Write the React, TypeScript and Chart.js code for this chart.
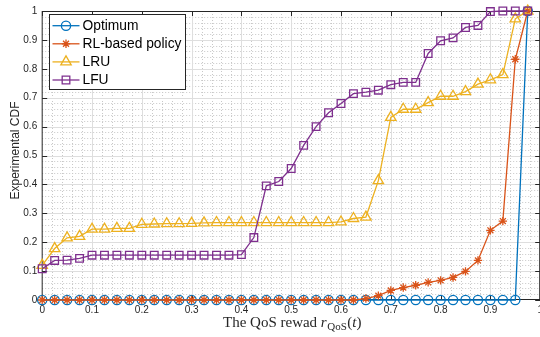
import React, { useEffect, useRef } from 'react';
import { Chart, registerables } from 'chart.js';
import { drawPoint } from 'chart.js/helpers';

Chart.register(...registerables);

// Reward thresholds (x) at which each empirical CDF is sampled
const xValues = [
  0, 0.025, 0.05, 0.075, 0.1, 0.125, 0.15, 0.175, 0.2, 0.225,
  0.25, 0.275, 0.3, 0.325, 0.35, 0.375, 0.4, 0.425, 0.45, 0.475,
  0.5, 0.525, 0.55, 0.575, 0.6, 0.625, 0.65, 0.675, 0.7, 0.725,
  0.75, 0.775, 0.8, 0.825, 0.85, 0.875, 0.9, 0.925, 0.95, 0.975,
];

const optimum = [
  0, 0, 0, 0, 0, 0, 0, 0, 0, 0,
  0, 0, 0, 0, 0, 0, 0, 0, 0, 0,
  0, 0, 0, 0, 0, 0, 0, 0, 0, 0,
  0, 0, 0, 0, 0, 0, 0, 0, 0, 1,
];

const rlPolicy = [
  0, 0, 0, 0, 0, 0, 0, 0, 0, 0,
  0, 0, 0, 0, 0, 0, 0, 0, 0, 0,
  0, 0, 0, 0, 0, 0, 0.005, 0.015, 0.033, 0.043,
  0.051, 0.061, 0.068, 0.078, 0.099, 0.137, 0.241, 0.273, 0.833, 1,
];

const lru = [
  0.12, 0.178, 0.215, 0.22, 0.245, 0.245, 0.248, 0.248, 0.262, 0.263,
  0.264, 0.264, 0.265, 0.267, 0.268, 0.268, 0.268, 0.268, 0.268, 0.268,
  0.268, 0.268, 0.268, 0.268, 0.27, 0.282, 0.287, 0.413, 0.632, 0.66,
  0.66, 0.683, 0.705, 0.705, 0.721, 0.747, 0.762, 0.78, 0.973, 1,
];

const lfu = [
  0.108, 0.137, 0.138, 0.144, 0.155, 0.155, 0.155, 0.155, 0.155, 0.155,
  0.155, 0.155, 0.155, 0.155, 0.155, 0.155, 0.157, 0.216, 0.395, 0.41,
  0.455, 0.535, 0.6, 0.648, 0.68, 0.714, 0.719, 0.726, 0.745, 0.753,
  0.753, 0.853, 0.897, 0.907, 0.943, 0.95, 0.998, 1, 1, 1,
];

const xTickValues = [0, 0.1, 0.2, 0.3, 0.4, 0.5, 0.6, 0.7, 0.8, 0.9, 1];
const yTickValues = [0, 0.1, 0.2, 0.3, 0.4, 0.5, 0.6, 0.7, 0.8, 0.9, 1];

const seriesNames = ['Optimum', 'RL-based policy', 'LRU', 'LFU'];
const seriesValues = [optimum, rlPolicy, lru, lfu];
const seriesColors = ['#0072BD', '#D95319', '#EDB120', '#7E2F8E'];
const seriesMarkers = ['circle', 'star', 'triangle', 'rect'];
const markerRadius = [4.6, 4.2, 6, 5.4];

const AXIS_COLOR = '#262626';
const SANS = '"Liberation Sans", Arial, Helvetica, sans-serif';
const SERIF = '"Liberation Serif", "Times New Roman", serif';

const CANVAS_W = 560;
const CANVAS_H = 337;

// Grid, box and inward tick marks in the MATLAB style
const axesBoxPlugin = {
  id: 'axesBox',
  beforeDatasetsDraw(chart: any) {
    const { ctx, chartArea, scales } = chart;
    const { left, right, top, bottom } = chartArea;
    const xs = scales.x;
    const ys = scales.y;
    const line = (x1: number, y1: number, x2: number, y2: number) => {
      ctx.beginPath();
      ctx.moveTo(x1, y1);
      ctx.lineTo(x2, y2);
      ctx.stroke();
    };
    ctx.save();
    ctx.lineWidth = 1;

    // minor grid (0.02 spacing), dotted
    ctx.strokeStyle = '#c8c8c8';
    ctx.setLineDash([1, 2]);
    for (let i = 1; i < 50; i++) {
      if (i % 5 === 0) continue;
      const v = i / 50;
      const px = Math.round(xs.getPixelForValue(v)) + 0.5;
      line(px, top, px, bottom);
      const py = Math.round(ys.getPixelForValue(v)) + 0.5;
      line(left, py, right, py);
    }

    // major grid
    ctx.setLineDash([]);
    ctx.strokeStyle = '#dedede';
    xTickValues.forEach((v) => {
      if (v <= 0 || v >= 1) return;
      const px = Math.round(xs.getPixelForValue(v)) + 0.5;
      line(px, top, px, bottom);
    });
    yTickValues.forEach((v) => {
      if (v <= 0 || v >= 1) return;
      const py = Math.round(ys.getPixelForValue(v)) + 0.5;
      line(left, py, right, py);
    });

    // axes box
    ctx.strokeStyle = AXIS_COLOR;
    line(left, top + 0.5, right, top + 0.5);
    line(left, bottom - 0.5, right, bottom - 0.5);
    line(left, top, left, bottom);
    line(right - 0.5, top, right - 0.5, bottom);

    // inward ticks
    const tl = 5;
    xTickValues.forEach((v) => {
      const px = Math.round(xs.getPixelForValue(v)) + 0.5;
      line(px, bottom, px, bottom - tl);
      line(px, top, px, top + tl);
    });
    yTickValues.forEach((v) => {
      const py = Math.round(ys.getPixelForValue(v)) + 0.5;
      line(left, py, left + tl, py);
      line(right, py, right - tl, py);
    });
    ctx.restore();
  },
  afterDatasetsDraw(chart: any) {
    const { ctx } = chart;
    ctx.save();
    // legend box
    const bx = 49.5;
    const by = 14.5;
    const bw = 136;
    const bh = 75;
    ctx.fillStyle = '#ffffff';
    ctx.fillRect(bx, by, bw, bh);
    ctx.strokeStyle = AXIS_COLOR;
    ctx.lineWidth = 1;
    ctx.strokeRect(bx, by, bw, bh);

    ctx.font = `13.8px ${SANS}`;
    ctx.textBaseline = 'middle';
    ctx.textAlign = 'left';
    seriesNames.forEach((name, i) => {
      const cy = by + 11.2 + i * 18.1;
      ctx.strokeStyle = seriesColors[i];
      ctx.lineWidth = 1.3;
      ctx.beginPath();
      ctx.moveTo(52.5, cy);
      ctx.lineTo(79.5, cy);
      ctx.stroke();
      ctx.fillStyle = 'rgba(0,0,0,0)';
      drawPoint(ctx, {
        pointStyle: seriesMarkers[i],
        rotation: 0,
        radius: markerRadius[i],
        borderWidth: 1.3,
      } as any, 66, cy);
      ctx.fillStyle = '#000000';
      ctx.fillText(name, 82.5, cy + 0.5);
    });
    ctx.restore();
  },
  afterDraw(chart: any) {
    const { ctx, chartArea } = chart;
    const { left, right, top, bottom } = chartArea;
    ctx.save();
    ctx.fillStyle = AXIS_COLOR;

    // y-axis title
    ctx.font = `12px ${SANS}`;
    ctx.textAlign = 'center';
    ctx.textBaseline = 'middle';
    ctx.translate(16, (top + bottom) / 2 - 5);
    ctx.rotate(-Math.PI / 2);
    ctx.fillText('Experimental CDF', 0, 0);
    ctx.setTransform(1, 0, 0, 1, 0, 0);

    // x-axis title: "The QoS rewad r_QoS(t)"
    ctx.textAlign = 'left';
    ctx.textBaseline = 'alphabetic';
    const mainFont = `15px ${SERIF}`;
    const italicFont = `italic 15px ${SERIF}`;
    const subFont = `11px ${SERIF}`;
    const parts = [
      { text: 'The QoS rewad ', font: mainFont, dy: 0 },
      { text: 'r', font: italicFont, dy: 0 },
      { text: 'QoS', font: subFont, dy: 3 },
      { text: '(', font: mainFont, dy: 0 },
      { text: 't', font: italicFont, dy: 0 },
      { text: ')', font: mainFont, dy: 0 },
    ];
    let total = 0;
    const widths = parts.map((p) => {
      ctx.font = p.font;
      const w = ctx.measureText(p.text).width + (p.text === 'QoS' ? 1 : 0);
      total += w;
      return w;
    });
    let cx = (left + right) / 2 + 1 - total / 2;
    const baseY = 327;
    parts.forEach((p, i) => {
      ctx.font = p.font;
      ctx.fillText(p.text, cx + (p.text === 'QoS' ? 0.5 : 0), baseY + p.dy);
      cx += widths[i];
    });
    ctx.restore();
  },
};

export default function App() {
  const canvasRef = useRef<HTMLCanvasElement | null>(null);

  useEffect(() => {
    const canvas = canvasRef.current;
    if (!canvas) return;

    const datasets = seriesNames.map((name, i) => ({
      label: name,
      data: xValues.map((x, j) => ({ x, y: seriesValues[i][j] })),
      borderColor: seriesColors[i],
      backgroundColor: 'rgba(0,0,0,0)',
      borderWidth: 1.3,
      pointStyle: seriesMarkers[i],
      pointRadius: markerRadius[i],
      pointBorderWidth: 1.3,
      pointBorderColor: seriesColors[i],
      pointBackgroundColor: 'rgba(0,0,0,0)',
      tension: 0,
      fill: false,
      clip: false,
      order: seriesNames.length - 1 - i,
    }));

    const tickFont = { family: SANS, size: 10 };

    const chart = new Chart(canvas, {
      type: 'line',
      data: { datasets },
      options: {
        responsive: false,
        animation: false,
        devicePixelRatio: 1,
        layout: { padding: { left: 0, right: CANVAS_W - 540.2, top: 7, bottom: 0 } },
        plugins: {
          legend: { display: false },
          tooltip: { enabled: false },
          title: { display: false },
        },
        scales: {
          x: {
            type: 'linear',
            min: 0,
            max: 1,
            afterBuildTicks: (s: any) => {
              s.ticks = xTickValues.map((v) => ({ value: v }));
            },
            afterFit: (s: any) => {
              s.height = 37;
            },
            grid: { display: false, drawTicks: false },
            border: { display: false },
            ticks: {
              font: tickFont,
              color: AXIS_COLOR,
              padding: 4,
              maxRotation: 0,
              autoSkip: false,
              callback: (v: any) => String(v),
            },
          },
          y: {
            type: 'linear',
            min: 0,
            max: 1,
            afterBuildTicks: (s: any) => {
              s.ticks = yTickValues.map((v) => ({ value: v }));
            },
            afterFit: (s: any) => {
              s.width = 42.2;
            },
            grid: { display: false, drawTicks: false },
            border: { display: false },
            ticks: {
              font: tickFont,
              color: AXIS_COLOR,
              padding: 5,
              autoSkip: false,
              callback: (v: any) => String(v),
            },
          },
        },
      } as any,
      plugins: [axesBoxPlugin],
    });

    return () => chart.destroy();
  }, []);

  return (
    <div
      style={{
        position: 'fixed',
        left: 0,
        top: 0,
        width: 540,
        height: 337,
        overflow: 'hidden',
        background: '#ffffff',
      }}
    >
      <canvas
        ref={canvasRef}
        width={CANVAS_W}
        height={CANVAS_H}
        style={{ display: 'block', width: CANVAS_W, height: CANVAS_H }}
      />
    </div>
  );
}
